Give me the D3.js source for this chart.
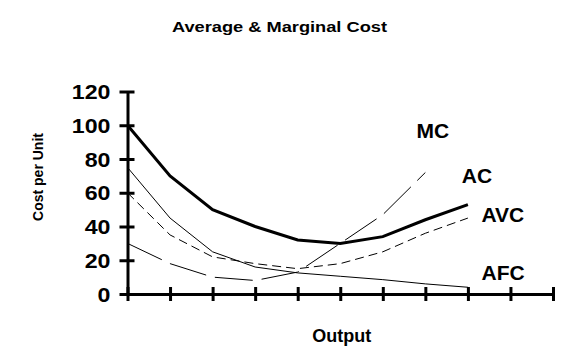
<!DOCTYPE html>
<html>
<head>
<meta charset="utf-8">
<script src="https://cdn.jsdelivr.net/npm/d3@7"></script>
<style>
html,body{margin:0;padding:0;background:#fff;}
svg{display:block;}
text{font-family:"Liberation Sans",Arial,Helvetica,sans-serif;font-weight:bold;fill:#000;}
</style>
</head>
<body>
<svg id="chart" width="584" height="356"></svg>
<script>
// ---- data ----
const categories = ["1","2","3","4","5","6","7","8","9","10","11"];
const ac  = [100, 70, 50, 40, 32, 30, 34, 44, 53];
const avc = [60, 35, 22, 18, 15, 18, 25, 36, 45];
const afc = [75, 45, 25, 16, 12.5, 10.5, 8.5, 6, 4];
const mc  = [30, 18, 10, 8, 13, 30, 47, 72];
const yTicks = [0, 20, 40, 60, 80, 100, 120];
const seriesNames = ["MC", "AC", "AVC", "AFC"];
const title = "Average & Marginal Cost";
const xTitle = "Output";
const yTitle = "Cost per Unit";

const svg = d3.select("#chart");

const x = d3.scalePoint().domain(categories).range([127.5, 553]);
const y = d3.scaleLinear().domain([0, 120]).range([294, 91.5]);

const line = d3.line().x((d, i) => x(categories[i])).y(d => y(d));

const series = [
  {name: "AFC", values: afc, width: 1, dash: null},
  {name: "MC",  values: mc,  width: 1, dash: "38,9"},
  {name: "AVC", values: avc, width: 1, dash: "9,5"},
  {name: "AC",  values: ac,  width: 3, dash: null}
];

svg.append("g").selectAll("path").data(series).join("path")
  .attr("d", d => line(d.values))
  .attr("fill", "none")
  .attr("stroke", "#000")
  .attr("stroke-width", d => d.width)
  .attr("stroke-dasharray", d => d.dash);

// y axis
const yAxis = svg.append("g").attr("transform", "translate(127.5,0)")
  .call(d3.axisLeft(y).tickValues(yTicks).tickSizeOuter(0).tickSizeInner(8).tickPadding(0));
yAxis.select(".domain").attr("stroke", "#000").attr("stroke-width", 3);
yAxis.selectAll(".tick line").attr("x1", -8).attr("x2", 7).attr("stroke", "#000").attr("stroke-width", 3);
yAxis.selectAll(".tick text")
  .attr("x", -17).attr("dy", "0.35em")
  .style("font-size", "20px").attr("text-anchor", "end")
  .attr("textLength", d => String(d).length * 12.9)
  .attr("lengthAdjust", "spacingAndGlyphs")
  .style("font-family", "'Liberation Sans',Arial,sans-serif").style("font-weight", "bold");

// x axis
const xAxis = svg.append("g").attr("transform", "translate(0,294)")
  .call(d3.axisBottom(x).tickSizeOuter(0).tickSizeInner(7).tickFormat(""));
xAxis.select(".domain").attr("stroke", "#000").attr("stroke-width", 3);
xAxis.selectAll(".tick line").attr("y1", -7).attr("y2", 7).attr("stroke", "#000").attr("stroke-width", 3);

// titles
svg.append("text").attr("x", 279.5).attr("y", 32).attr("text-anchor", "middle")
  .style("font-size", "14px").attr("textLength", 215).attr("lengthAdjust", "spacingAndGlyphs")
  .text(title);
svg.append("text").attr("x", 341.7).attr("y", 341.5).attr("text-anchor", "middle")
  .style("font-size", "18px").text(xTitle);
svg.append("text").attr("transform", "translate(43,177) rotate(-90)").attr("text-anchor", "middle")
  .style("font-size", "14px").text(yTitle);

// series labels
const labelPos = {MC: [416.5, 137.7], AC: [461.8, 183.3], AVC: [481.5, 221.7], AFC: [481.5, 280]};
svg.append("g").selectAll("text").data(seriesNames).join("text")
  .attr("x", d => labelPos[d][0]).attr("y", d => labelPos[d][1])
  .style("font-size", "21px").text(d => d);
</script>
</body>
</html>
